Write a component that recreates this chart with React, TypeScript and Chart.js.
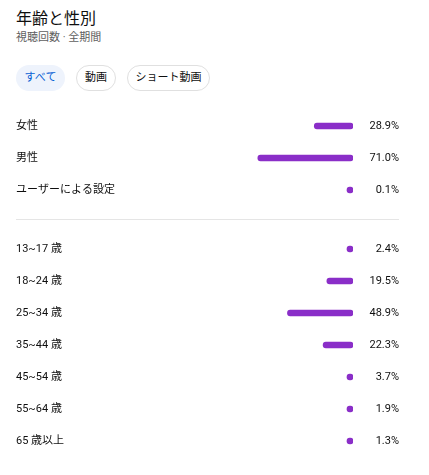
import React, { useEffect, useRef } from "react";
import { Chart, registerables } from "chart.js";

Chart.register(...registerables);

const genderLabels = ["女性", "男性", "ユーザーによる設定"];
const genderValues = [28.9, 71.0, 0.1];

const ageLabels = ["13~17 歳", "18~24 歳", "25~34 歳", "35~44 歳", "45~54 歳", "55~64 歳", "65 歳以上"];
const ageValues = [2.4, 19.5, 48.9, 22.3, 3.7, 1.9, 1.3];

const FONT = "Roboto, 'Noto Sans CJK JP', sans-serif";
const PURPLE = "#8a2ec8";
const TEXT = "#0f0f0f";

function fitAxis(width: number) {
  return (s: any) => {
    s.width = width;
    s.paddingTop = 0;
    s.paddingBottom = 0;
  };
}

function BarSection({ labels, values, height }: { labels: string[]; values: number[]; height: number }) {
  const ref = useRef<HTMLCanvasElement | null>(null);
  useEffect(() => {
    if (!ref.current) return;
    const pct = values.map((v) => v.toFixed(1) + "%");
    const chart = new Chart(ref.current, {
      type: "bar",
      data: {
        labels,
        datasets: [
          {
            data: values,
            backgroundColor: PURPLE,
            barThickness: 6,
            borderRadius: 3,
            borderSkipped: false,
            minBarLength: 6,
          } as any,
        ],
      },
      options: {
        indexAxis: "y",
        animation: false,
        responsive: false,
        events: [],
        layout: { padding: 0 },
        plugins: { legend: { display: false }, tooltip: { enabled: false } },
        scales: {
          x: { type: "linear", reverse: true, min: 0, max: 100, display: false },
          y: {
            type: "category",
            position: "left",
            offset: true,
            grid: { display: false },
            border: { display: false },
            ticks: { crossAlign: "far", autoSkip: false, padding: 0, color: TEXT, font: { family: FONT, size: 11 } },
            afterFit: fitAxis(203),
          },
          y2: {
            type: "category",
            position: "right",
            labels: pct,
            offset: true,
            grid: { display: false },
            border: { display: false },
            ticks: { crossAlign: "far", autoSkip: false, padding: 0, color: TEXT, font: { family: FONT, size: 11 } },
            afterFit: fitAxis(46),
          },
        },
      } as any,
    });
    return () => chart.destroy();
  }, [labels, values]);
  return <canvas ref={ref} width={383} height={height} style={{ display: "block", width: 383, height }} />;
}

const pill = (active: boolean, width: number): React.CSSProperties => ({
  boxSizing: "border-box",
  width,
  height: 26,
  borderRadius: 13,
  border: active ? "1px solid transparent" : "1px solid #e0e0e0",
  background: active ? "#eef3fc" : "#ffffff",
  color: active ? "#065fd4" : TEXT,
  fontSize: 11,
  lineHeight: "24px",
  textAlign: "center",
  fontFamily: FONT,
});

export default function App() {
  return (
    <div style={{ padding: "0 8px", width: 383, fontFamily: FONT, background: "#fff" }}>
      <div style={{ fontSize: 16, lineHeight: "22px", height: 22, color: TEXT }}>年齢と性別</div>
      <div style={{ fontSize: 11, lineHeight: "16px", height: 16, color: "#606060" }}>視聴回数 · 全期間</div>
      <div style={{ display: "flex", gap: 11, marginTop: 19 }}>
        <div style={pill(true, 49)}>すべて</div>
        <div style={pill(false, 40)}>動画</div>
        <div style={pill(false, 83)}>ショート動画</div>
      </div>
      <div style={{ marginTop: 19 }}>
        <BarSection labels={genderLabels} values={genderValues} height={96} />
      </div>
      <div style={{ marginTop: 13, marginBottom: 13, height: 1, background: "#e5e5e5" }} />
      <BarSection labels={ageLabels} values={ageValues} height={224} />
    </div>
  );
}
